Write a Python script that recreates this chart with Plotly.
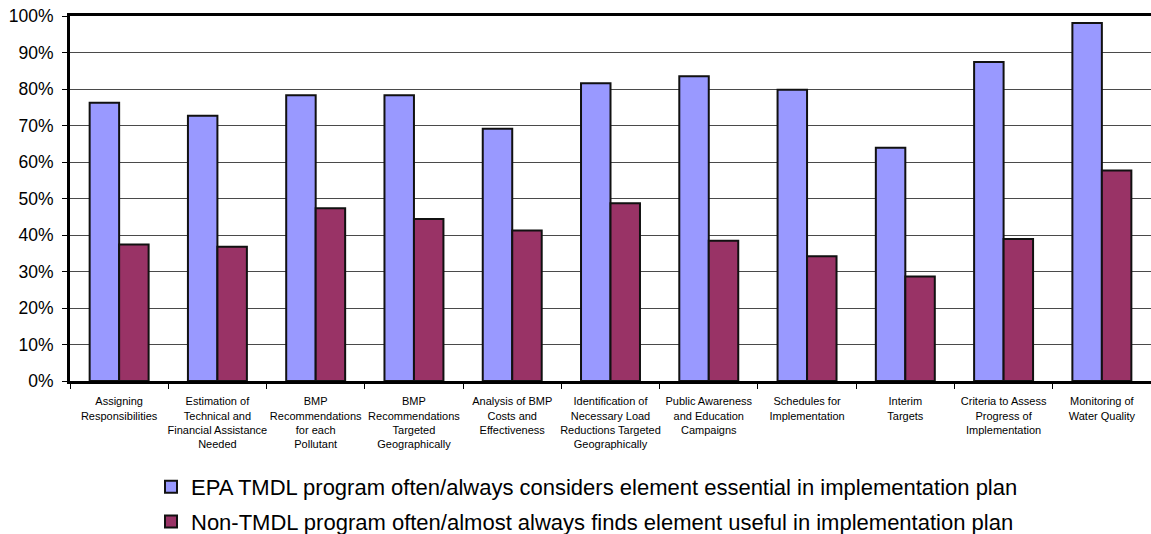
import plotly.graph_objects as go

# Implementation plan elements (x-axis categories, wrapped as drawn)
categories = [
    "Assigning<br>Responsibilities",
    "Estimation of<br>Technical and<br>Financial Assistance<br>Needed",
    "BMP<br>Recommendations<br>for each<br>Pollutant",
    "BMP<br>Recommendations<br>Targeted<br>Geographically",
    "Analysis of BMP<br>Costs and<br>Effectiveness",
    "Identification of<br>Necessary Load<br>Reductions Targeted<br>Geographically",
    "Public Awareness<br>and Education<br>Campaigns",
    "Schedules for<br>Implementation",
    "Interim<br>Targets",
    "Criteria to Assess<br>Progress of<br>Implementation",
    "Monitoring of<br>Water Quality",
]

# Percent of programs per element
epa_tmdl = [76.2, 72.7, 78.3, 78.3, 69.1, 81.6, 83.5, 79.8, 63.9, 87.4, 98.1]
non_tmdl = [37.4, 36.8, 47.3, 44.4, 41.2, 48.7, 38.4, 34.2, 28.6, 38.9, 57.7]

series_names = [
    "EPA TMDL program often/always considers element essential in implementation plan",
    "Non-TMDL program often/almost always finds element useful in implementation plan",
]

y_ticks = list(range(0, 101, 10))
y_labels = [f"{v}%" for v in y_ticks]

W, H = 1151, 534
fig = go.Figure()
fig.add_trace(go.Bar(
    x=categories, y=epa_tmdl, name=series_names[0], legendgroup="a",
    marker=dict(color="#9999FF", line=dict(color="#111111", width=2)),
))
fig.add_trace(go.Bar(
    x=categories, y=non_tmdl, name=series_names[1], legendgroup="b",
    marker=dict(color="#993366", line=dict(color="#111111", width=2)),
))

fig.update_layout(
    template="none",
    width=W, height=H,
    margin=dict(l=70, r=0, t=16, b=153, autoexpand=False),
    paper_bgcolor="white", plot_bgcolor="white",
    barmode="group", bargap=0.4, bargroupgap=0,
    font=dict(family="Liberation Sans, Arial, sans-serif", color="#000000"),
    showlegend=True,
    legend=dict(
        xref="container", yref="container",
        x=151 / W, y=1 - 466 / H, xanchor="left", yanchor="top",
        font=dict(size=22, color="#000000"), traceorder="grouped", tracegroupgap=3,
        bgcolor="rgba(0,0,0,0)", borderwidth=0,
    ),
)

fig.update_xaxes(
    type="category", tickson="boundaries", tickangle=0,
    showline=True, linecolor="#000000", linewidth=3, mirror=True,
    ticks="outside", ticklen=5, tickcolor="#000000", tickwidth=1,
    tickfont=dict(size=11, color="#000000"), ticklabelstandoff=8,
    showgrid=False,
)
fig.update_yaxes(
    range=[0, 100], tickvals=y_ticks, ticktext=y_labels,
    showline=True, linecolor="#000000", linewidth=3,
    ticks="outside", ticklen=5, tickcolor="#000000", tickwidth=1,
    tickfont=dict(size=17.5, color="#000000"), ticklabelstandoff=5,
    showgrid=True, gridcolor="#4a4a4a", gridwidth=1.2, zeroline=False,
)

fig.write_html("out.html")
